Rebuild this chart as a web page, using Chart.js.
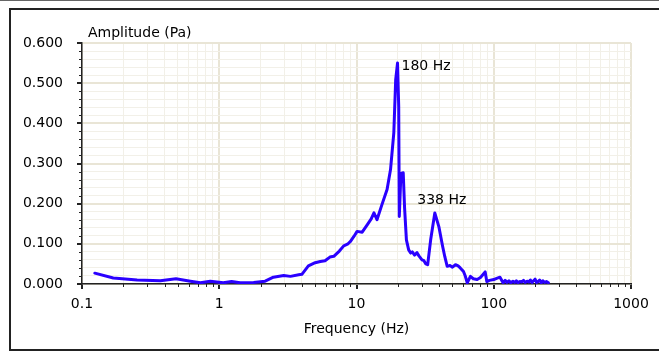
<!DOCTYPE html>
<html>
<head>
<meta charset="utf-8">
<script src="https://cdn.jsdelivr.net/npm/chart.js@4/dist/chart.umd.min.js"></script>
<style>
  html, body { margin: 0; padding: 0; background: #fff; }
  #wrap { position: relative; width: 659px; height: 352px; overflow: hidden; }
  #topline { position: absolute; left: 0; top: 0; width: 659px; height: 1px; background: #666; }
  #frame { position: absolute; left: 9px; top: 8px; width: 700px; height: 339px; border: 2px solid #222; }
  canvas { position: absolute; left: 0; top: 0; }
</style>
</head>
<body>
<div id="wrap">
  <div id="topline"></div>
  <div id="frame"></div>
  <canvas id="c" width="659" height="352"></canvas>
</div>
<script>
// Frequency axis values (as plotted, log scale)
const freq = [0.124, 0.169, 0.252, 0.372, 0.484, 0.616, 0.73, 0.86, 1.07, 1.23, 1.42, 1.78, 2.16, 2.48, 2.95, 3.3, 3.79, 4.0, 4.46, 5.0, 5.45, 5.9, 6.4, 6.83, 7.5, 8.07, 8.6, 9.04, 9.6, 10.1, 11.0, 12.0, 12.8, 13.4, 14.1, 15.3, 16.7, 17.7, 18.7, 19.3, 19.9, 20.3, 20.5, 21.0, 21.3, 21.9, 22.4, 23.1, 24.0, 24.8, 25.5, 26.5, 27.6, 28.5, 30.0, 31.0, 32.0, 33.0, 34.7, 37.2, 39.8, 42.4, 44.0, 45.8, 48.0, 50.0, 52.6, 55.0, 57.0, 60.2, 62.0, 64.1, 67.6, 71.0, 75.7, 80.0, 86.6, 89.0, 93.0, 100, 105, 111, 117, 121, 125, 129, 133, 138, 142, 146, 150, 155, 160, 165, 170, 175, 180, 185, 190, 195, 200, 205, 210, 216, 222, 228, 235, 242, 250];
// Amplitude (Pa)
const amplitude = [0.027, 0.015, 0.010, 0.008, 0.013, 0.007, 0.003, 0.007, 0.003, 0.006, 0.003, 0.004, 0.007, 0.017, 0.021, 0.019, 0.023, 0.024, 0.045, 0.053, 0.056, 0.058, 0.067, 0.069, 0.082, 0.095, 0.099, 0.106, 0.119, 0.131, 0.129, 0.148, 0.162, 0.177, 0.160, 0.197, 0.235, 0.285, 0.376, 0.509, 0.550, 0.442, 0.168, 0.262, 0.276, 0.277, 0.190, 0.110, 0.085, 0.077, 0.080, 0.072, 0.078, 0.070, 0.060, 0.058, 0.050, 0.048, 0.110, 0.177, 0.143, 0.094, 0.068, 0.044, 0.046, 0.042, 0.048, 0.045, 0.040, 0.031, 0.020, 0.003, 0.019, 0.013, 0.011, 0.016, 0.030, 0.006, 0.009, 0.011, 0.014, 0.017, 0.003, 0.009, 0.004, 0.008, 0.003, 0.007, 0.004, 0.008, 0.003, 0.006, 0.005, 0.009, 0.004, 0.007, 0.005, 0.010, 0.004, 0.008, 0.012, 0.004, 0.006, 0.010, 0.003, 0.008, 0.004, 0.006, 0.003];
// Peak annotations: index into the arrays and label text
const peakIndex = [40, 59];
const peakLabels = ['180 Hz', '338 Hz'];
// Tick labels
const xMajorTicks = [0.1, 1, 10, 100, 1000];
const xTickLabels = ['0.1', '1', '10', '100', '1000'];
const yMajorTicks = [0, 0.1, 0.2, 0.3, 0.4, 0.5, 0.6];
const yTickLabels = ['0.000', '0.100', '0.200', '0.300', '0.400', '0.500', '0.600'];
const yTitle = 'Amplitude (Pa)';
const xTitle = 'Frequency (Hz)';

const FONT = 'DejaVu Sans';
const majorGrid = '#e9e5d6';
const minorGrid = '#f2f0e8';

function isMajorX(v) { return xMajorTicks.some(t => Math.abs(v - t) / t < 1e-6); }
function isMajorY(v) { return yMajorTicks.some(t => Math.abs(v - t) < 1e-6); }

const points = freq.map((f, i) => ({ x: f, y: amplitude[i] }));

const extras = {
  id: 'extras',
  afterDraw(chart) {
    const ctx = chart.ctx;
    const xs = chart.scales.x, ys = chart.scales.y;
    const area = chart.chartArea;
    ctx.save();
    // minor tick marks
    ctx.strokeStyle = '#222';
    ctx.lineWidth = 1;
    xs.ticks.forEach(t => {
      if (!isMajorX(t.value)) {
        const px = Math.round(xs.getPixelForValue(t.value)) + 0.5;
        ctx.beginPath(); ctx.moveTo(px, area.bottom); ctx.lineTo(px, area.bottom + 3); ctx.stroke();
      }
    });
    ys.ticks.forEach(t => {
      if (!isMajorY(t.value)) {
        const py = Math.round(ys.getPixelForValue(t.value)) + 0.5;
        ctx.beginPath(); ctx.moveTo(area.left - 3, py); ctx.lineTo(area.left, py); ctx.stroke();
      }
    });
    // y title
    ctx.fillStyle = '#000';
    ctx.font = '14px "' + FONT + '"';
    ctx.textAlign = 'left';
    ctx.textBaseline = 'middle';
    ctx.fillText(yTitle, area.left + 6, 33);
    // peak labels
    const meta = chart.getDatasetMeta(0);
    peakIndex.forEach((idx, k) => {
      const el = meta.data[idx];
      if (k === 0) {
        ctx.textAlign = 'left';
        ctx.fillText(peakLabels[k], el.x + 4, el.y + 3);
      } else {
        ctx.textAlign = 'center';
        ctx.fillText(peakLabels[k], el.x + 7, el.y - 13);
      }
    });
    ctx.restore();
  }
};

new Chart(document.getElementById('c'), {
  type: 'line',
  data: {
    datasets: [{
      data: points,
      borderColor: '#2a00ff',
      borderWidth: 3,
      pointRadius: 0,
      tension: 0,
      fill: false,
      borderJoinStyle: 'round',
      borderCapStyle: 'round'
    }]
  },
  options: {
    responsive: false,
    animation: false,
    devicePixelRatio: 1,
    layout: { padding: { left: 0, top: 43, right: 28, bottom: 0 } },
    plugins: { legend: { display: false }, tooltip: { enabled: false } },
    scales: {
      x: {
        type: 'logarithmic',
        min: 0.1,
        max: 1000,
        afterBuildTicks(scale) {
          const ticks = [];
          for (let e = -1; e <= 2; e++) {
            for (let m = 1; m <= 9; m++) ticks.push({ value: m * Math.pow(10, e) });
          }
          ticks.push({ value: 1000 });
          scale.ticks = ticks;
        },
        afterFit(scale) { scale.height = 68; },
        ticks: {
          autoSkip: false,
          maxRotation: 0,
          padding: 7,
          color: '#000',
          font: { family: FONT, size: 14 },
          callback(v) {
            const i = xMajorTicks.findIndex(t => Math.abs(v - t) / t < 1e-6);
            return i >= 0 ? xTickLabels[i] : '';
          }
        },
        grid: {
          color: c => (c.tick && isMajorX(c.tick.value)) ? majorGrid : minorGrid,
          lineWidth: c => (c.tick && isMajorX(c.tick.value)) ? 2 : 1,
          tickColor: c => (c.tick && isMajorX(c.tick.value)) ? '#222' : 'rgba(0,0,0,0)',
          tickLength: 5,
          drawTicks: true
        },
        border: { display: true, color: '#222', width: 1.5 },
        title: {
          display: true,
          text: xTitle,
          color: '#000',
          font: { family: FONT, size: 14 },
          padding: { top: 0, bottom: 14 }
        }
      },
      y: {
        type: 'linear',
        min: 0,
        max: 0.6,
        afterBuildTicks(scale) {
          const ticks = [];
          for (let i = 0; i <= 30; i++) ticks.push({ value: +(i * 0.02).toFixed(2) });
          scale.ticks = ticks;
        },
        afterFit(scale) { scale.width = 82; },
        ticks: {
          autoSkip: false,
          padding: 14,
          color: '#000',
          font: { family: FONT, size: 14 },
          callback(v) {
            const i = yMajorTicks.findIndex(t => Math.abs(v - t) < 1e-6);
            return i >= 0 ? yTickLabels[i] : '';
          }
        },
        grid: {
          color: c => (c.tick && isMajorY(c.tick.value)) ? majorGrid : minorGrid,
          lineWidth: c => (c.tick && isMajorY(c.tick.value)) ? 2 : 1,
          tickColor: c => (c.tick && isMajorY(c.tick.value)) ? '#222' : 'rgba(0,0,0,0)',
          tickLength: 5,
          drawTicks: true
        },
        border: { display: true, color: '#222', width: 1.5 }
      }
    }
  },
  plugins: [extras]
});
</script>
</body>
</html>
